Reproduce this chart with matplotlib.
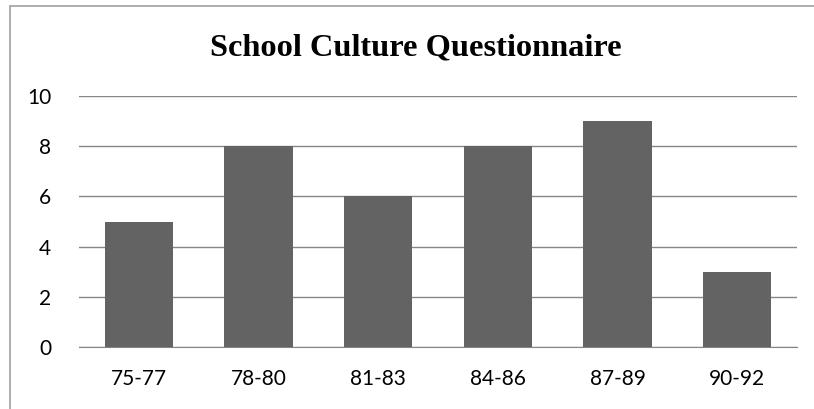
import matplotlib
matplotlib.use("Agg")
import matplotlib.pyplot as plt
from matplotlib.patches import Rectangle

# score ranges and number of respondents
categories = ['75-77', '78-80', '81-83', '84-86', '87-89', '90-92']
counts = [5, 8, 6, 8, 9, 3]

fig = plt.figure(figsize=(8.14, 4.09), dpi=100)
ax = fig.add_axes([79 / 814, 1 - 347 / 409, (797 - 79) / 814, (347 - 96) / 409])

ax.bar(range(len(categories)), counts, width=0.57, color='#636363', zorder=3)
ax.set_xlim(-0.5, len(categories) - 0.5)
ax.set_ylim(0, 10)
ax.set_yticks(range(0, 11, 2))
ax.set_xticks(range(len(categories)))
ax.set_xticklabels(categories)

ax.grid(axis='y', color='#868686', linewidth=1, zorder=0)
for s in ['top', 'right', 'left']:
    ax.spines[s].set_visible(False)
ax.spines['bottom'].set_color('#868686')
ax.tick_params(length=0, labelsize=15, labelcolor='black')
ax.tick_params(axis='y', pad=20)
ax.tick_params(axis='x', pad=16)
for lbl in ax.get_xticklabels() + ax.get_yticklabels():
    lbl.set_fontfamily('Lato')

fig.text(416 / 814, 1 - 48 / 409, 'School Culture Questionnaire', ha='center', va='center',
         fontsize=23.3, fontweight='bold', family='Liberation Serif')

# chart frame (left and top edges visible)
fig.patches.append(Rectangle((10 / 814, -0.1), 2, 1.1 - 6 / 409, transform=fig.transFigure,
                             fill=False, edgecolor='#a0a0a0', linewidth=1.2))

fig.savefig('out.png', dpi=100)
